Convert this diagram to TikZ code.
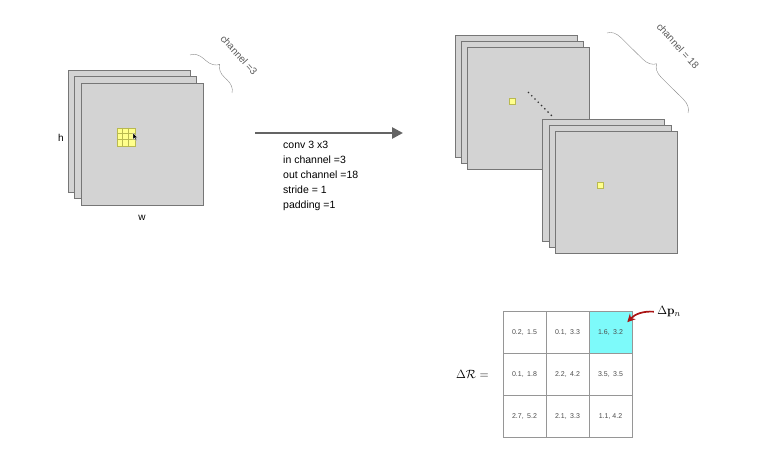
\documentclass[tikz,border=0pt]{standalone}
\usepackage[no-math]{fontspec}
\setmainfont{Liberation Sans}
\usepackage{tikz}
\usetikzlibrary{calc}
\usetikzlibrary{matrix}
\usetikzlibrary{positioning}
\usetikzlibrary{arrows.meta, decorations.pathreplacing}
\definecolor{sheetfill}{RGB}{211,211,211}
\definecolor{sheetedge}{RGB}{118,118,118}
\definecolor{kernfill}{RGB}{255,255,140}
\definecolor{kernedge}{RGB}{185,185,80}
\definecolor{arrowgray}{RGB}{100,100,100}
\definecolor{bracegray}{RGB}{140,140,140}
\definecolor{deltacyan}{RGB}{125,250,250}
\definecolor{cellgray}{RGB}{150,150,150}
\definecolor{pointred}{RGB}{170,20,20}
\tikzstyle{sheet} = [draw=sheetedge,fill=sheetfill,line width=0.8pt,minimum width=122pt,minimum height=122pt,inner sep=0pt]
\tikzstyle{pixel} = [draw=kernedge,fill=kernfill,line width=0.6pt,minimum size=6pt,inner sep=0pt]
\tikzstyle{arrow} = [draw=arrowgray,line width=2.6pt,-{Triangle[length=11pt,width=11pt]}]
\tikzstyle{chbrace} = [decorate,decoration={brace,amplitude=13pt},draw=bracegray,thin]
\tikzstyle{chlabel} = [rotate=-48,text=black!65,font=\fontsize{10}{12}\selectfont]
\tikzstyle{cell} = [draw=cellgray,line width=0.6pt,minimum width=43pt,minimum height=42pt,inner sep=0pt,text=black!70,font=\fontsize{7}{8}\selectfont]
\tikzstyle{pointer} = [draw=pointred,line width=1.7pt,-{Stealth[length=8pt,width=8pt]}]

\begin{document}
\begin{tikzpicture}[x=1pt,y=-1pt]
	\useasboundingbox (0,0) rectangle (774,465);
	% input feature map
	\node[sheet] (in1) at (129,131) {};
	\node[sheet] (in2) at (135.5,137.5) {};
	\node[sheet] (in3) at (142,144) {};
	\node[pixel,minimum size=18pt] (kern) at ($(in3)+(-16,-7)$) {};
	\foreach \k in {6,12} {
		\draw[kernedge,line width=0.6pt] ($(kern.north west)+(\k,0)$) -- ($(kern.south west)+(\k,0)$);
		\draw[kernedge,line width=0.6pt] ($(kern.north west)+(0,\k)$) -- ($(kern.north east)+(0,\k)$);
	}
	\fill[black,draw=white,line width=0.3pt] (133,133) -- (133,139.5) -- (134.6,138) -- (135.8,140.5) -- (136.8,140) -- (135.6,137.6) -- (137.6,137.5) -- cycle;
	\node[left=7pt of in2,font=\fontsize{10}{12}\selectfont] {h};
	\node[below=6pt of in3,font=\fontsize{10}{12}\selectfont] {w};
	\coordinate (b1) at (190,55);
	\coordinate (b2) at (232,93);
	\draw[chbrace] (b1) -- (b2);
	\node[chlabel] at (239,55) {channel =3};

	% convolution
	\coordinate (a) at (255,133);
	\coordinate (b) at (403,133);
	\draw[arrow] (a) -- (b);
	\node[anchor=north west,inner sep=0pt,align=left,font=\fontsize{10.5}{15}\selectfont] (params) at (283,141)
		{conv 3 x3\\in channel =3\\out channel =18\\stride = 1\\padding =1};

	% offset field
	\node[sheet] (off1) at (516,96) {};
	\node[sheet] (off2) at (522.5,102.5) {};
	\node[sheet] (off3) at (528.5,108.5) {};
	\node[pixel] (p1) at ($(off3)+(-16,-7.5)$) {};
	\coordinate (d1) at (528,92);
	\coordinate (d2) at (554,118);
	\draw[black!80,line width=1.4pt,dash pattern=on 1.4pt off 3.2pt] (d1) -- (d2);
	\node[sheet] (off4) at (603.5,180) {};
	\node[sheet] (off5) at (610,186) {};
	\node[sheet] (off6) at (616,192.5) {};
	\node[pixel] (p2) at ($(off6)+(-16,-7.5)$) {};
	\coordinate (c1) at (607,33);
	\coordinate (c2) at (688,113);
	\draw[chbrace] (c1) -- (c2);
	\node[chlabel] at (678,46) {channel = 18};

	% offsets of one location
	\matrix[matrix of nodes,nodes={cell},column sep=-0.6pt,row sep=-0.6pt] (dr) at (567.5,374.5) {
	0.2,\enspace 1.5 & 0.1,\enspace 3.3 & |[fill=deltacyan]| 1.6,\enspace 3.2\\
	0.1,\enspace 1.8 & 2.2,\enspace 4.2 & 3.5,\enspace 3.5\\
	2.7,\enspace 5.2 & 2.1,\enspace 3.3 & 1.1, 4.2\\
	};
	\node[left=7pt of dr.west,font=\fontsize{13}{15}\selectfont] (dR) {$\Delta\mathcal{R} =$};
	\node[right=18pt of dr.north east,yshift=-4pt,font=\fontsize{12.5}{14}\selectfont] (dpn) {$\Delta\mathbf{p}_n$};
	\draw[pointer] (dpn.west) to[bend right=25] ($(dr-1-3.north east)+(-5,11)$);
\end{tikzpicture}
\end{document}
